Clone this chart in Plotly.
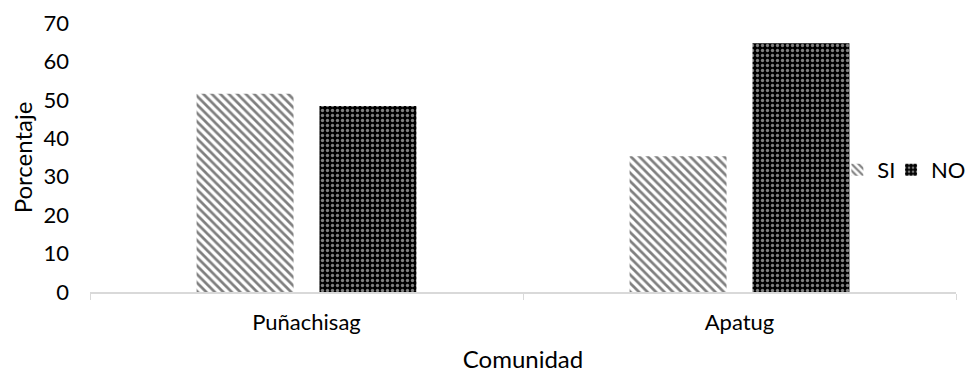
import plotly.graph_objects as go

categories = ["Puñachisag", "Apatug"]
si_values = [51.6, 35.3]
no_values = [48.4, 64.7]
y_ticks = [0, 10, 20, 30, 40, 50, 60, 70]

FONT = "Lato"

fig = go.Figure()
fig.add_trace(go.Bar(
    name="SI", x=categories, y=si_values, legend="legend",
    marker=dict(color="white", line=dict(width=0),
                pattern=dict(shape="\\", size=6, solidity=0.45,
                             fgcolor="black", bgcolor="white", fillmode="overlay")),
))
fig.add_trace(go.Bar(
    name="NO", x=categories, y=no_values, legend="legend2",
    marker=dict(color="black", line=dict(width=0),
                pattern=dict(shape=".", size=5, solidity=0.35,
                             fgcolor="white", bgcolor="black", fillmode="overlay")),
))

legend_style = dict(orientation="h", y=0.454, xanchor="left", yanchor="middle",
                    bgcolor="rgba(0,0,0,0)", font=dict(size=22),
                    itemwidth=30, tracegroupgap=0)

fig.update_layout(
    width=976, height=372,
    margin=dict(l=82, r=28, t=15, b=88),
    paper_bgcolor="white", plot_bgcolor="white",
    barmode="group", bargap=0.4325, bargroupgap=0.211,
    font=dict(family=FONT, size=22, color="#000000"),
    showlegend=True,
    legend=dict(x=0.863, **legend_style),
    legend2=dict(x=0.925, **legend_style),
)
fig.update_xaxes(
    automargin=False,
    showline=True, linecolor="#d9d9d9", linewidth=1.5,
    ticks="outside", tickson="boundaries", ticklen=6, tickcolor="#d9d9d9",
    ticklabelstandoff=10,
    showgrid=False, zeroline=False,
    title=dict(text="Comunidad", font=dict(size=24), standoff=17),
)
fig.update_yaxes(
    automargin=False,
    range=[0, 70], tickvals=y_ticks, showgrid=False, zeroline=False, showline=False,
    ticklabelstandoff=20,
    title=dict(text="Porcentaje", font=dict(size=24), standoff=11),
)

fig.write_html("out.html")
